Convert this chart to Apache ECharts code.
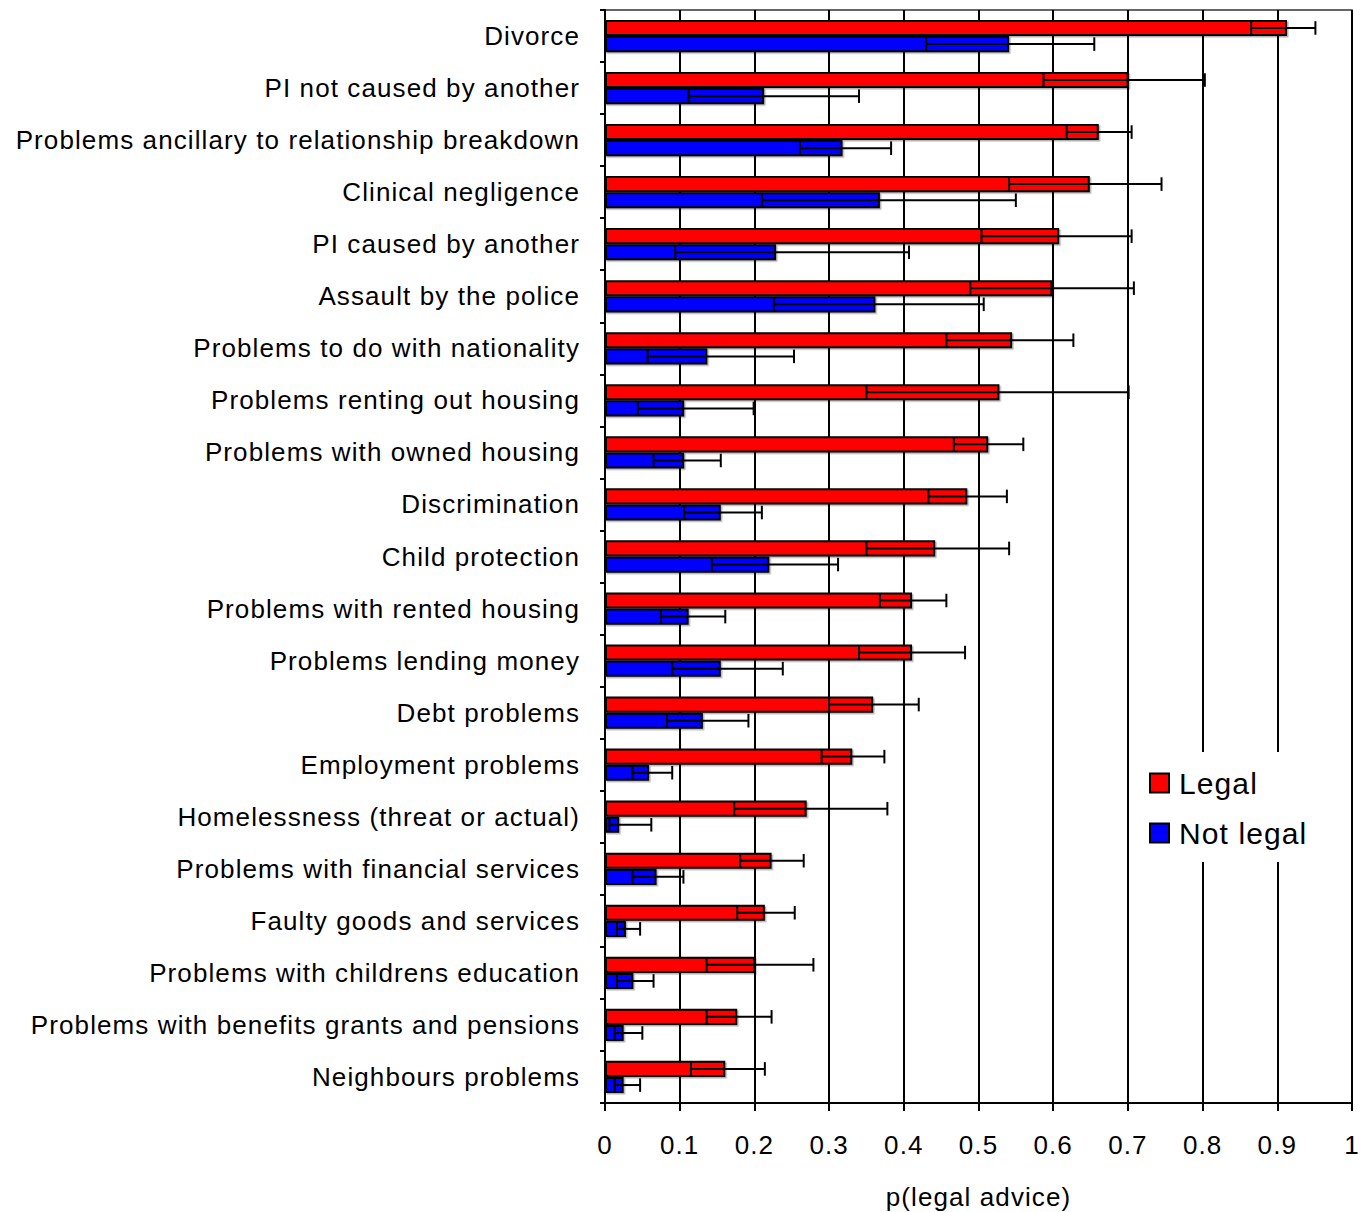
<!DOCTYPE html>
<html>
<head>
<meta charset="utf-8">
<script src="https://cdn.jsdelivr.net/npm/echarts@6/dist/echarts.min.js"></script>
<style>
  html, body { margin: 0; padding: 0; background: #fff; overflow: hidden; }
  #chart { width: 1361px; height: 1212px; }
  /* slightly spaced lettering for every label */
  #chart svg text { letter-spacing: 1.1px; }
</style>
</head>
<body>
<div id="chart"></div>
<script>
// Problem types, top to bottom
const categories = [
  'Divorce',
  'PI not caused by another',
  'Problems ancillary to relationship breakdown',
  'Clinical negligence',
  'PI caused by another',
  'Assault by the police',
  'Problems to do with nationality',
  'Problems renting out housing',
  'Problems with owned housing',
  'Discrimination',
  'Child protection',
  'Problems with rented housing',
  'Problems lending money',
  'Debt problems',
  'Employment problems',
  'Homelessness (threat or actual)',
  'Problems with financial services',
  'Faulty goods and services',
  'Problems with childrens education',
  'Problems with benefits grants and pensions',
  'Neighbours problems'
];

// p(legal advice), legal adviser
const legal     = [0.913, 0.701, 0.661, 0.649, 0.608, 0.599, 0.545, 0.528, 0.513, 0.485, 0.442, 0.411, 0.411, 0.359, 0.331, 0.270, 0.223, 0.214, 0.201, 0.177, 0.161];
const legalLow  = [0.865, 0.587, 0.618, 0.541, 0.504, 0.489, 0.457, 0.350, 0.467, 0.433, 0.350, 0.368, 0.340, 0.300, 0.290, 0.173, 0.181, 0.177, 0.136, 0.136, 0.115];
const legalHigh = [0.951, 0.803, 0.705, 0.745, 0.705, 0.708, 0.627, 0.701, 0.560, 0.538, 0.541, 0.457, 0.482, 0.420, 0.374, 0.378, 0.266, 0.254, 0.279, 0.223, 0.214];

// p(legal advice), non-legal adviser
const notLegal     = [0.541, 0.213, 0.318, 0.368, 0.229, 0.362, 0.137, 0.106, 0.106, 0.155, 0.220, 0.112, 0.155, 0.131, 0.059, 0.019, 0.069, 0.028, 0.038, 0.025, 0.025];
const notLegalLow  = [0.430, 0.112, 0.261, 0.210, 0.094, 0.226, 0.057, 0.044, 0.065, 0.106, 0.143, 0.075, 0.090, 0.083, 0.037, 0.006, 0.037, 0.016, 0.016, 0.013, 0.013];
const notLegalHigh = [0.655, 0.340, 0.383, 0.550, 0.407, 0.507, 0.253, 0.199, 0.155, 0.210, 0.312, 0.161, 0.238, 0.192, 0.090, 0.062, 0.105, 0.047, 0.065, 0.050, 0.047];

const xTicks = { min: 0, max: 1, interval: 0.1 };

const FONT = '"Liberation Sans", Arial, sans-serif';
const CAT_GAP = 0.38;   // share of each band left empty around the pair of bars

const chart = echarts.init(document.getElementById('chart'), null, { renderer: 'svg' });

// Whisker with end caps, centred on the bar of series `slot` (0 = upper, 1 = lower)
function errorRenderer(slot) {
  return function (params, api) {
    const idx = api.value(0);
    const lo = api.coord([api.value(1), idx]);
    const hi = api.coord([api.value(2), idx]);
    const band = api.size([0, 1])[1];
    const barW = band * (1 - CAT_GAP) / 2;
    const y = lo[1] + (slot === 0 ? -barW / 2 : barW / 2);
    const cap = barW * 0.42;
    const style = { stroke: '#000', lineWidth: 2 };
    return {
      type: 'group',
      children: [
        { type: 'line', shape: { x1: lo[0], y1: y, x2: hi[0], y2: y }, style },
        { type: 'line', shape: { x1: lo[0], y1: y - cap, x2: lo[0], y2: y + cap }, style },
        { type: 'line', shape: { x1: hi[0], y1: y - cap, x2: hi[0], y2: y + cap }, style }
      ]
    };
  };
}

const barStyle = (color) => ({
  color,
  borderColor: '#000',
  borderWidth: 2,
  shadowColor: 'rgba(0,0,0,0.3)',
  shadowOffsetX: 1.5,
  shadowOffsetY: 1.5,
  shadowBlur: 0
});

chart.setOption({
  animation: false,
  backgroundColor: '#fff',
  grid: {
    left: 605, right: 9, top: 10, bottom: 109,
    outerBoundsMode: 'none',
    show: true, borderColor: '#333', borderWidth: 1.5, backgroundColor: 'transparent'
  },
  legend: {
    data: ['Legal', 'Not legal'],
    orient: 'vertical',
    left: 1140, top: 752,
    padding: [16, 14, 14, 9],
    backgroundColor: '#fff',
    itemWidth: 19, itemHeight: 19,
    itemGap: 20,
    icon: 'rect',
    textStyle: { fontFamily: FONT, fontSize: 30, lineHeight: 30, color: '#000', padding: [0, 0, 0, 5] },
    selectedMode: false
  },
  xAxis: {
    type: 'value',
    min: xTicks.min, max: xTicks.max, interval: xTicks.interval,
    name: 'p(legal advice)',
    nameLocation: 'middle',
    nameGap: 81,
    nameTextStyle: { fontFamily: FONT, fontSize: 26, color: '#000' },
    axisLine: { show: true, lineStyle: { color: '#000', width: 2 } },
    axisTick: { show: true, length: 8, lineStyle: { color: '#000', width: 2 } },
    axisLabel: {
      fontFamily: FONT, fontSize: 26, color: '#000', margin: 29,
      formatter: (v) => String(Math.round(v * 10) / 10)
    },
    splitLine: { show: true, lineStyle: { color: '#000', width: 2 } }
  },
  yAxis: {
    type: 'category',
    data: categories,
    inverse: true,
    axisLine: { show: true, lineStyle: { color: '#000', width: 2 } },
    axisTick: { show: true, length: 5, lineStyle: { color: '#000', width: 2 } },
    axisLabel: { fontFamily: FONT, fontSize: 26, color: '#000', margin: 25, interval: 0 },
    splitLine: { show: false }
  },
  series: [
    {
      name: 'Legal', type: 'bar', data: legal,
      barGap: '0%', barCategoryGap: (CAT_GAP * 100) + '%',
      itemStyle: barStyle('#ff0000')
    },
    {
      name: 'Not legal', type: 'bar', data: notLegal,
      barGap: '0%', barCategoryGap: (CAT_GAP * 100) + '%',
      itemStyle: barStyle('#0000ff')
    },
    {
      name: 'Legal range', type: 'custom', z: 5,
      renderItem: errorRenderer(0),
      data: categories.map((c, i) => [i, legalLow[i], legalHigh[i]]),
      encode: { x: [1, 2], y: 0 }
    },
    {
      name: 'Not legal range', type: 'custom', z: 5,
      renderItem: errorRenderer(1),
      data: categories.map((c, i) => [i, notLegalLow[i], notLegalHigh[i]]),
      encode: { x: [1, 2], y: 0 }
    }
  ]
});
</script>
</body>
</html>
